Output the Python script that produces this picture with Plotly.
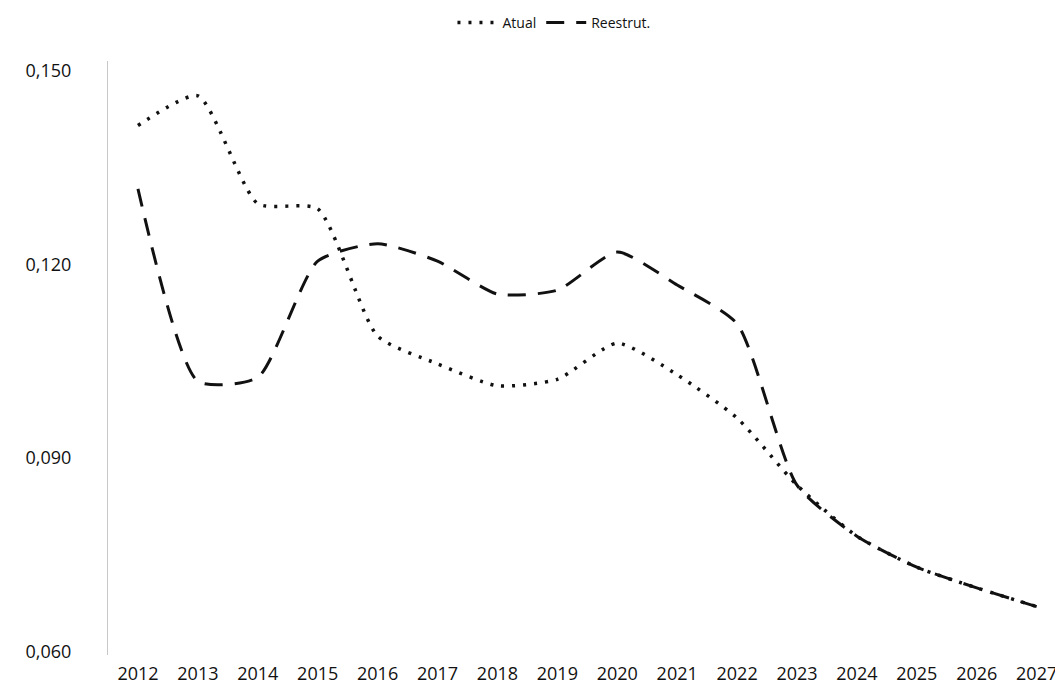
import plotly.graph_objects as go

# anos
anos = list(range(2012, 2028))

# série atual (pontilhada)
atual = [0.1415, 0.1461, 0.1294, 0.1286, 0.1089, 0.1046, 0.1012, 0.1022,
         0.1078, 0.1029, 0.0962, 0.0858, 0.0779, 0.0731, 0.0699, 0.0670]

# série reestruturada (tracejada)
reestrut = [0.1317, 0.1019, 0.1025, 0.1205, 0.1232, 0.1205, 0.1154, 0.1160,
            0.1219, 0.1168, 0.1108, 0.0858, 0.0779, 0.0731, 0.0699, 0.0670]

y_ticks = [0.060, 0.090, 0.120, 0.150]

fig = go.Figure()

fig.add_trace(go.Scatter(
    x=anos, y=atual, mode='lines', name='Atual',
    line=dict(color='#111111', width=3.5, dash='3px,8px', shape='spline', smoothing=0.6)
))

fig.add_trace(go.Scatter(
    x=anos, y=reestrut, mode='lines', name='Reestrut.',
    line=dict(color='#111111', width=3, dash='18px,12px', shape='spline', smoothing=0.6)
))

# a página tem margem de 8px no body, então a figura é um pouco menor que a janela
fig.update_layout(
    width=1055, height=678,
    margin=dict(l=100, r=0, t=53, b=31),
    paper_bgcolor='white', plot_bgcolor='white',
    separators=',.',
    font=dict(family='Open Sans, sans-serif', size=18, color='#111111'),
    showlegend=True,
    legend=dict(orientation='h', x=0.5175, xref='container', xanchor='center',
                y=0.978, yref='container', yanchor='middle',
                font=dict(size=14), itemwidth=40),
    xaxis=dict(range=[2011.5, 2027.44], tickvals=anos, ticktext=[str(a) for a in anos],
               showgrid=False, zeroline=False, showline=False, ticks='',
               tickfont=dict(size=18), ticklabelstandoff=6, automargin=False),
    yaxis=dict(range=[0.0595, 0.1515], tickvals=y_ticks, tickformat='.3f',
               showgrid=False, zeroline=False, showline=True, linecolor='#c8c8c8',
               linewidth=1, ticks='', ticklabelstandoff=32, automargin=False)
)

fig.write_html("out.html")
